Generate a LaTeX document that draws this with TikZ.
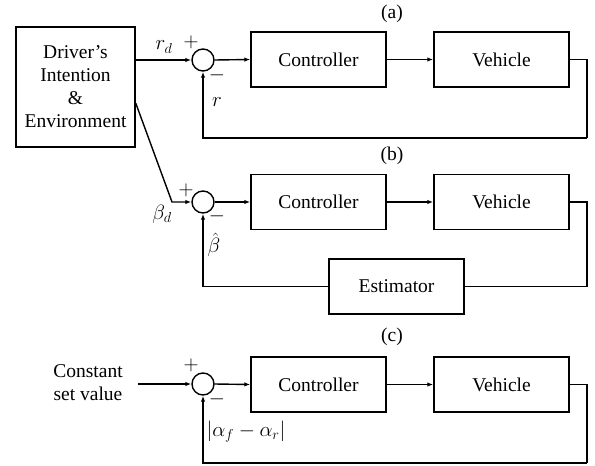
\documentclass[tikz,border=0pt]{standalone}
\usepackage{fontspec}
\setmainfont{Liberation Serif}
\usetikzlibrary{arrows.meta}
\begin{document}
\begin{tikzpicture}[x=1pt,y=1pt,
  font=\rmfamily\fontsize{19.5}{23}\selectfont,
  every path/.style={line width=1.4pt},
  blk/.style={draw, rectangle, minimum width=135pt, minimum height=55pt, inner sep=0pt},
  sumc/.style={draw, circle, minimum size=22pt, inner sep=0pt},
  arr/.style={-{Latex[length=6pt,width=4.5pt]}},
  lbl/.style={inner sep=0pt},
  sgn/.style={inner sep=0pt, font=\rmfamily\fontsize{20}{24}\selectfont}]
\useasboundingbox (0,0) rectangle (595,-466);
% (a)
\node[draw, rectangle, minimum width=119pt, minimum height=120pt, align=center, inner sep=0pt] (drv) at (75.5,-87) {Driver’s\\Intention\\\&\\Environment};
\node[sumc] (sa) at (203,-60) {};
\node[blk] (ca) at (318.5,-59.5) {Controller};
\node[blk] (va) at (501.5,-59.5) {Vehicle};
\node[lbl] (la) at (392,-14) {(a)};
\node[sgn] (pa) at (191,-42) {$+$};
\node[sgn] (ma) at (217,-75) {$-$};
\node[lbl] (rd) at (164,-47) {$r_d$};
\node[lbl] (rr) at (217,-102) {$r$};
\coordinate (fa) at (587,-138);
\draw[arr] (drv.east |- sa) -- (sa.west);
\draw[arr] (sa.east) -- (ca.west);
\draw[arr] (ca.east) -- (va.west);
\draw (va.east) -| (fa);
\draw[arr] (fa) -| (sa.south);
% (b)
\node[sumc] (sb) at (203,-202) {};
\node[blk] (cb) at (318.5,-202) {Controller};
\node[blk] (vb) at (501.5,-202) {Vehicle};
\node[blk] (est) at (396.5,-286.5) {Estimator};
\node[lbl] (lb) at (392,-156) {(b)};
\node[sgn] (pb) at (186,-190) {$+$};
\node[sgn] (mb) at (217,-216) {$-$};
\node[lbl] (bd) at (162,-214) {$\beta_d$};
\node[lbl] (bh) at (214,-245) {$\hat\beta$};
\coordinate (dk) at (172,-202);
\coordinate (fb) at (587,-286.5);
\draw[arr] ([yshift=-16pt]drv.east) -- (dk) -- (sb.west);
\draw[arr] (sb.east) -- (cb.west);
\draw[arr] (cb.east) -- (vb.west);
\draw (vb.east) -| (fb) -- (est.east);
\draw[arr] (est.west) -| (sb.south);
% (c)
\node[sgn] (pc) at (191,-365) {$+$};
\node[sumc] (sc) at (203,-384) {};
\node[blk] (cc) at (318.5,-384.5) {Controller};
\node[blk] (vc) at (501.5,-384.5) {Vehicle};
\node[lbl] (lc) at (392,-337) {(c)};
\node[sgn] (mc) at (217,-399) {$-$};
\node[lbl, align=center] (cst) at (88,-383) {Constant\\set value};
\node[lbl] (al) at (246,-432) {$|\alpha_f-\alpha_r|$};
\coordinate (cin) at (138,-384);
\coordinate (fc) at (587,-463);
\draw[arr] (cin) -- (sc.west);
\draw[arr] (sc.east) -- (cc.west);
\draw[arr] (cc.east) -- (vc.west);
\draw (vc.east) -| (fc);
\draw[arr] (fc) -| (sc.south);
\end{tikzpicture}
\end{document}
